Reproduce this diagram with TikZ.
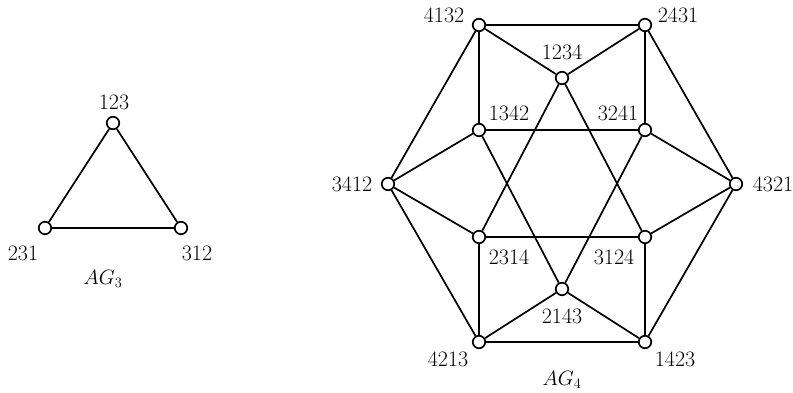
\documentclass[tikz,border=0pt]{standalone}
\usepackage{fontspec}
\begin{document}
\begin{tikzpicture}[x=1pt,y=-1pt,
  vtx/.style={circle,draw,fill=white,line width=1.7pt,inner sep=0pt,minimum size=12.5pt},
  lbl/.style={font=\fontsize{22}{26}\selectfont,inner sep=0pt},
  edge/.style={line width=1.7pt}]
\useasboundingbox (0,0) rectangle (793,392);
% AG3
\node[vtx] (a123) at (113,123) {};
\node[vtx] (a231) at (45,228) {};
\node[vtx] (a312) at (181,228) {};
\draw[edge] (a123) -- (a231) -- (a312) -- (a123);
\node[lbl] (l123) at (114,102) {123};
\node[lbl] (l231) at (23,253) {231};
\node[lbl] (l312) at (197,253) {312};
\node[lbl] (lag3) at (103,279) {$AG_3$};
% AG4
\node[vtx] (n4132) at (479,25) {};
\node[vtx] (n2431) at (645,25) {};
\node[vtx] (n1234) at (562,78) {};
\node[vtx] (n1342) at (479,130) {};
\node[vtx] (n3241) at (645,130) {};
\node[vtx] (n3412) at (388,184) {};
\node[vtx] (n4321) at (736,184) {};
\node[vtx] (n2314) at (479,237) {};
\node[vtx] (n3124) at (645,237) {};
\node[vtx] (n2143) at (562,289) {};
\node[vtx] (n4213) at (479,342) {};
\node[vtx] (n1423) at (645,342) {};
\begin{scope}[edge]
\draw (n4132) -- (n2431) -- (n4321) -- (n1423) -- (n4213) -- (n3412) -- (n4132);
\draw (n4132) -- (n1342);
\draw (n2431) -- (n3241);
\draw (n2314) -- (n4213);
\draw (n3124) -- (n1423);
\draw (n1342) -- (n3241);
\draw (n2314) -- (n3124);
\draw (n1234) -- (n4132);
\draw (n1234) -- (n2431);
\draw (n1234) -- (n2314);
\draw (n1234) -- (n3124);
\draw (n2143) -- (n4213);
\draw (n2143) -- (n1423);
\draw (n2143) -- (n1342);
\draw (n2143) -- (n3241);
\draw (n3412) -- (n1342);
\draw (n3412) -- (n2314);
\draw (n4321) -- (n3241);
\draw (n4321) -- (n3124);
\end{scope}
\node[lbl] (l4132) at (444,15) {4132};
\node[lbl] (l2431) at (678,15) {2431};
\node[lbl] (l1234) at (562,52) {1234};
\node[lbl] (l1342) at (509,113) {1342};
\node[lbl] (l3241) at (618,113) {3241};
\node[lbl] (l3412) at (352,184) {3412};
\node[lbl] (l4321) at (773,184) {4321};
\node[lbl] (l2314) at (509,257) {2314};
\node[lbl] (l3124) at (614,257) {3124};
\node[lbl] (l2143) at (562,316) {2143};
\node[lbl] (l4213) at (448,359) {4213};
\node[lbl] (l1423) at (675,359) {1423};
\node[lbl] (lag4) at (562,380) {$AG_4$};
\end{tikzpicture}
\end{document}
